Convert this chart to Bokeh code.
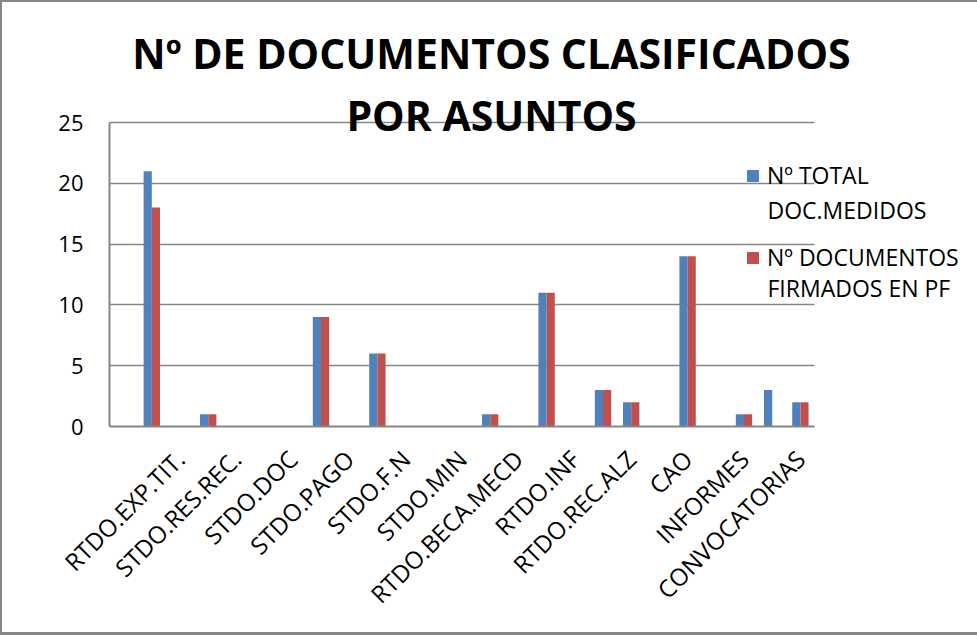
import math
from bokeh.plotting import figure
from bokeh.models import (ColumnDataSource, Range1d, FixedTicker, Legend,
                          LegendItem, Label)
from bokeh.transform import dodge
from bokeh.embed import file_html
from bokeh.resources import INLINE

# ---- data ----
categories = ["", "", "RTDO.EXP.TIT.", "", "STDO.RES.REC.", "", "STDO.DOC", "",
              "STDO.PAGO", "", "STDO.F.N", "", "STDO.MIN", "", "RTDO.BECA.MECD", "",
              "RTDO.INF", "", "RTDO.REC.ALZ", "", "CAO", "", "INFORMES", "",
              "CONVOCATORIAS"]
total_medidos = [0, 21, 0, 1, 0, 0, 0, 9, 0, 6, 0, 0, 0, 1, 0, 11, 0, 3, 2, 0, 14, 0, 1, 3, 2]
firmados_pf = [0, 18, 0, 1, 0, 0, 0, 9, 0, 6, 0, 0, 0, 1, 0, 11, 0, 3, 2, 0, 14, 0, 1, 0, 2]
y_ticks = [0, 5, 10, 15, 20, 25]
series_first_lines = ["Nº TOTAL", "Nº DOCUMENTOS"]
series_second_lines = ["DOC.MEDIDOS", "FIRMADOS EN PF"]
title_lines = ["Nº DE DOCUMENTOS CLASIFICADOS", "POR ASUNTOS"]

positions = list(range(len(categories)))
src = ColumnDataSource(dict(x=positions, total=total_medidos, firm=firmados_pf))

# ---- layout (pixels) ----
W, H = 977, 635
PL, PR, PT, PB = 109, 814, 122, 426   # plot area of the axes
X0, X1 = -0.5, len(categories) - 0.5
Y0, Y1 = 0, 25
ppx = (PR - PL) / (X1 - X0)
ppy = (PB - PT) / (Y1 - Y0)
# frame extends to the right and top edges so that title/legend texts are not clipped
x_end = X0 + (W - PL) / ppx
y_end = Y0 + PB / ppy

FONT = "Open Sans"
GRID = "#868686"
BLUE = "#4F81BD"
RED = "#C0504D"

p = figure(width=W, height=H, output_backend="svg", toolbar_location=None,
           x_range=Range1d(X0, x_end), y_range=Range1d(Y0, y_end),
           min_border_left=PL, min_border_right=0, min_border_top=0,
           min_border_bottom=H - PB)
p.outline_line_color = None
p.border_fill_color = None
p.background_fill_color = None
g = "linear-gradient(#868686,#868686)"
p.styles = {"background": f"{g} left top / 2px 100% no-repeat, "
                          f"{g} left top / 100% 2px no-repeat, "
                          f"{g} left bottom / 100% 3px no-repeat, white"}
p.xgrid.grid_line_color = None
p.ygrid.grid_line_color = GRID
p.ygrid.grid_line_width = 1.5
p.ygrid.ticker = FixedTicker(ticks=y_ticks)
p.ygrid.bounds = (Y0, Y1)
if "cross_bounds" in p.ygrid[0].properties():
    p.ygrid.cross_bounds = (X0, X1)

r1 = p.vbar(x=dodge("x", -0.145, range=p.x_range), top="total", width=0.29,
            source=src, fill_color=BLUE, line_color=None)
r2 = p.vbar(x=dodge("x", 0.145, range=p.x_range), top="firm", width=0.29,
            source=src, fill_color=RED, line_color=None)

# axes
xa = p.xaxis[0]
label_pos = [i for i, c in enumerate(categories) if c]
xa.ticker = FixedTicker(ticks=label_pos)
xa.bounds = (X0, X1)
xa.major_label_overrides = {i: categories[i] for i in label_pos}
xa.major_label_orientation = math.pi / 4
xa.major_tick_out = 0
xa.major_tick_in = 0
xa.minor_tick_out = 0
xa.minor_tick_in = 0
xa.major_tick_line_color = None
xa.minor_tick_line_color = None
xa.axis_line_color = GRID
xa.axis_line_width = 2
xa.major_label_text_font = FONT
xa.major_label_text_font_size = "24px"
xa.major_label_text_color = "black"
xa.major_label_standoff = 28

ya = p.yaxis[0]
ya.ticker = FixedTicker(ticks=y_ticks)
ya.bounds = (Y0, Y1)
ya.major_tick_out = 0
ya.major_tick_in = 0
ya.minor_tick_out = 0
ya.minor_tick_in = 0
ya.major_tick_line_color = None
ya.minor_tick_line_color = None
ya.axis_line_color = GRID
ya.axis_line_width = 2
ya.major_label_text_font = FONT
ya.major_label_text_font_size = "22px"
ya.major_label_text_color = "black"
ya.major_label_standoff = 26

# legend (first lines) + continuation lines
legend = Legend(items=[LegendItem(label=series_first_lines[0], renderers=[r1]),
                       LegendItem(label=series_first_lines[1], renderers=[r2])],
                location=(745 - PL, PB - 273), padding=0, margin=0, spacing=50,
                glyph_width=15, glyph_height=15, label_standoff=7,
                background_fill_alpha=0, border_line_color=None,
                label_text_font=FONT, label_text_font_size="23px",
                label_text_color="black")
p.add_layout(legend, "center")
for txt, yy in zip(series_second_lines, [209, 287]):
    p.add_layout(Label(x=767 - PL, y=PB - yy, x_units="screen", y_units="screen",
                       text=txt, text_align="left", text_baseline="middle",
                       text_font=FONT, text_font_size="23px", text_color="black"))

# title
for txt, yy in zip(title_lines, [52, 114]):
    p.add_layout(Label(x=491 - PL, y=PB - yy, x_units="screen", y_units="screen",
                       text=txt, text_align="center", text_baseline="middle",
                       text_font=FONT, text_font_style="bold",
                       text_font_size="41px", text_color="black"))

open("out.html", "w").write(file_html(p, INLINE))
